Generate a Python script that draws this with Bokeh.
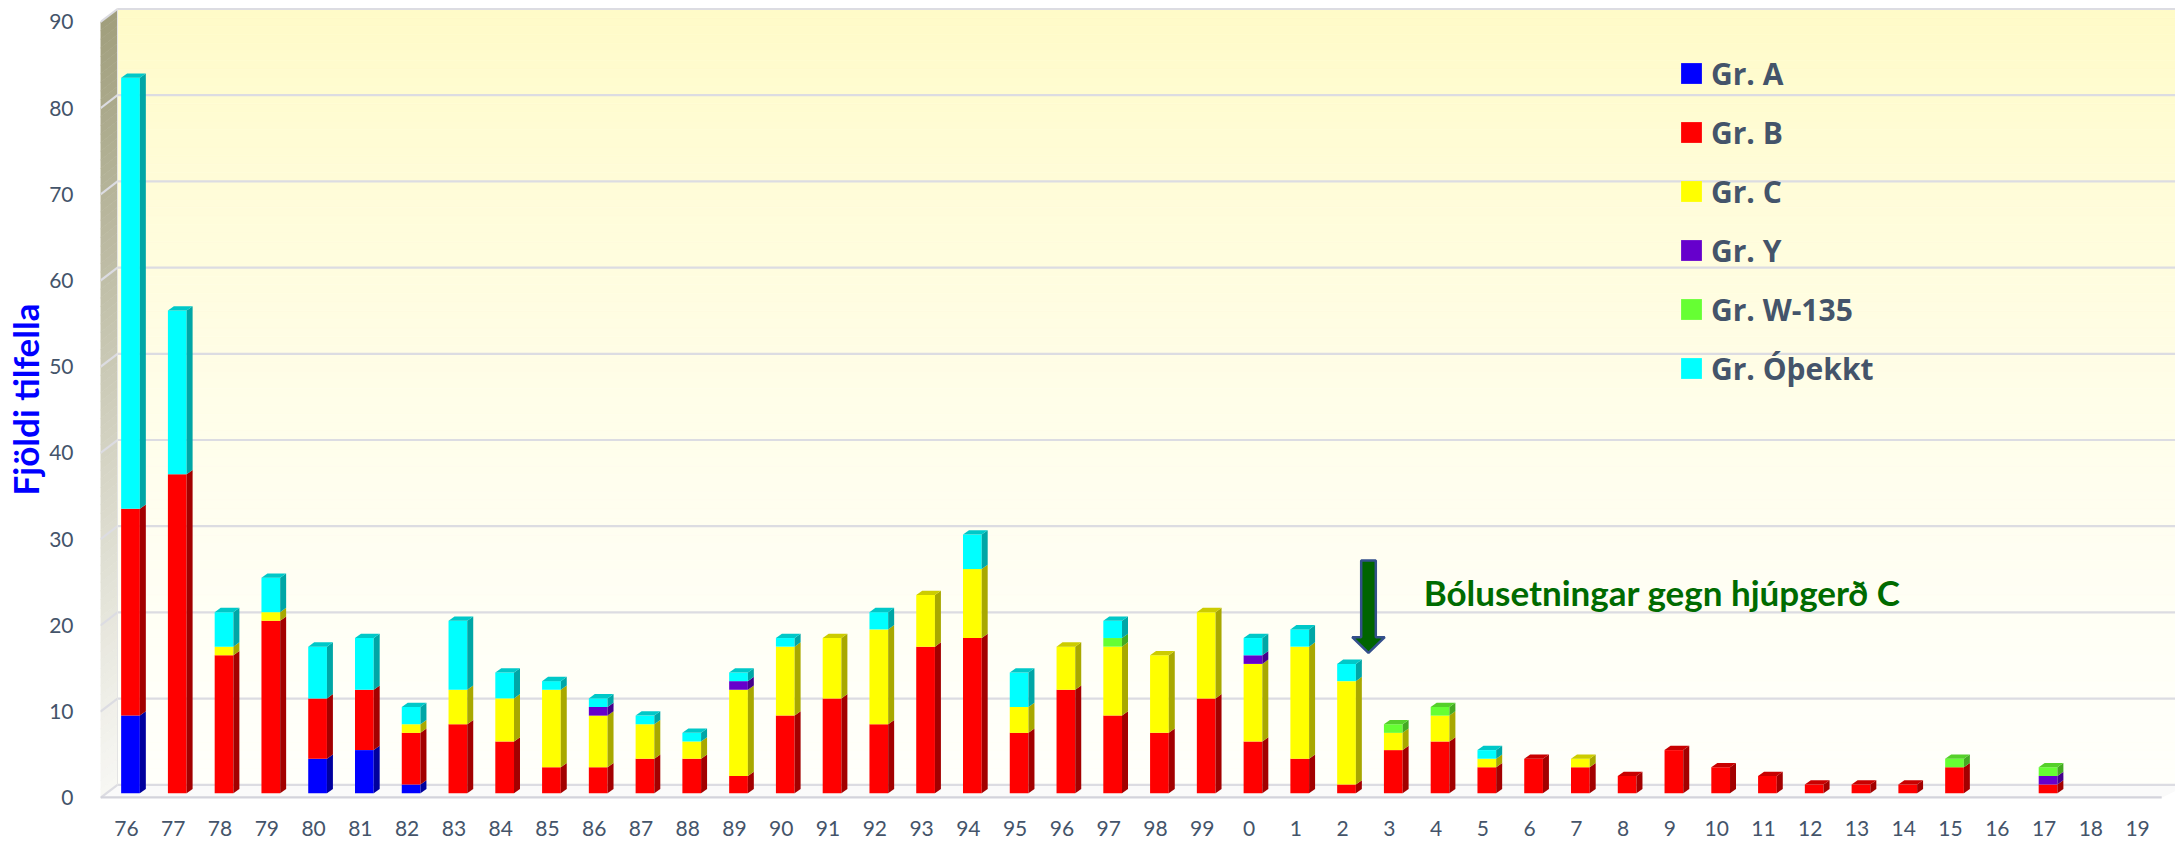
import numpy as np
from bokeh.plotting import figure
from bokeh.models import (Range1d, LinearAxis, FixedTicker, Legend, LegendItem,
                          Label, ColumnDataSource)
from bokeh.embed import file_html
from bokeh.resources import INLINE

# ---------------- data ----------------
years = ["76", "77", "78", "79", "80", "81", "82", "83", "84", "85", "86", "87",
         "88", "89", "90", "91", "92", "93", "94", "95", "96", "97", "98", "99",
         "0", "1", "2", "3", "4", "5", "6", "7", "8", "9", "10", "11", "12", "13",
         "14", "15", "16", "17", "18", "19"]

gr_a = [9, 0, 0, 0, 4, 5, 1, 0, 0, 0, 0, 0, 0, 0, 0, 0, 0, 0, 0, 0, 0, 0,
        0, 0, 0, 0, 0, 0, 0, 0, 0, 0, 0, 0, 0, 0, 0, 0, 0, 0, 0, 0, 0, 0]
gr_b = [24, 37, 16, 20, 7, 7, 6, 8, 6, 3, 3, 4, 4, 2, 9, 11, 8, 17, 18, 7, 12, 9,
        7, 11, 6, 4, 1, 5, 6, 3, 4, 3, 2, 5, 3, 2, 1, 1, 1, 3, 0, 1, 0, 0]
gr_c = [0, 0, 1, 1, 0, 0, 1, 4, 5, 9, 6, 4, 2, 10, 8, 7, 11, 6, 8, 3, 5, 8,
        9, 10, 9, 13, 12, 2, 3, 1, 0, 1, 0, 0, 0, 0, 0, 0, 0, 0, 0, 0, 0, 0]
gr_y = [0, 0, 0, 0, 0, 0, 0, 0, 0, 0, 1, 0, 0, 1, 0, 0, 0, 0, 0, 0, 0, 0,
        0, 0, 1, 0, 0, 0, 0, 0, 0, 0, 0, 0, 0, 0, 0, 0, 0, 0, 0, 1, 0, 0]
gr_w = [0, 0, 0, 0, 0, 0, 0, 0, 0, 0, 0, 0, 0, 0, 0, 0, 0, 0, 0, 0, 0, 1,
        0, 0, 0, 0, 0, 1, 1, 0, 0, 0, 0, 0, 0, 0, 0, 0, 0, 1, 0, 1, 0, 0]
gr_o = [50, 19, 4, 4, 6, 6, 2, 8, 3, 1, 1, 1, 1, 1, 1, 0, 2, 0, 4, 4, 0, 2,
        0, 0, 2, 2, 2, 0, 0, 1, 0, 0, 0, 0, 0, 0, 0, 0, 0, 0, 0, 0, 0, 0]

series_names = ["Gr. A", "Gr. B", "Gr. C", "Gr. Y", "Gr. W-135", "Gr. Óþekkt"]
series_values = [gr_a, gr_b, gr_c, gr_y, gr_w, gr_o]
y_ticks = [0, 10, 20, 30, 40, 50, 60, 70, 80, 90]

note_text = "Bólusetningar gegn hjúpgerð C"
y_title = "Fjöldi tilfella"

# ---------------- style ----------------
front_cols = ["#0000FF", "#FF0000", "#FFFF00", "#6600CC", "#66FF33", "#00FFFF"]
side_cols = ["#00009E", "#A30000", "#A8A800", "#45008C", "#44AA22", "#00A6A6"]
cap_cols = ["#0000CC", "#C80000", "#CCCC00", "#5500AA", "#55D02A", "#00C8C8"]
txt_col = "#44546A"
FONT = "Lato"

BAR_W = 0.4      # front face width (category units)
DX = 0.128       # bar depth, x
DY = 0.5         # bar depth, y (value units)
BACK_X = -0.278  # back wall left edge
FRONT_X = -0.6414
BACK_DV = 0.974  # back plane offset vs bar front plane
FRONT_DV = -0.534
X_END = 44.0
FLOOR_FRONT_END = 43.43

W, H = 2175, 840
p = figure(width=W, height=H, x_range=Range1d(-0.6414, 43.725),
           y_range=Range1d(-0.615, 91.96), output_backend="svg",
           toolbar_location=None, x_axis_type=None, y_axis_type=None,
           min_border_left=100, min_border_right=0, min_border_top=0,
           min_border_bottom=42)
p.outline_line_color = None
p.background_fill_color = "white"
p.border_fill_color = "white"

# ---------------- walls ----------------
top_c = np.array([255, 251, 200]); bot_c = np.array([255, 255, 250])
ks = np.arange(90)
t = (ks + 0.5) / 90.0
back_colors = ["#%02x%02x%02x" % tuple(np.round(bot_c + (top_c - bot_c) * (tt ** 1.5)).astype(int)) for tt in t]
p.quad(left=BACK_X, right=X_END, bottom=ks + BACK_DV, top=ks + 1 + BACK_DV,
       fill_color=back_colors, line_color=back_colors, line_width=0.6)

s_top = np.array([160, 158, 124]); s_bot = np.array([247, 247, 243])
side_colors = ["#%02x%02x%02x" % tuple(np.round(s_bot + (s_top - s_bot) * (tt ** 1.1)).astype(int)) for tt in t]
sxs = [[BACK_X, BACK_X, FRONT_X, FRONT_X] for k in ks]
sys_ = [[k + BACK_DV, k + 1 + BACK_DV, k + 1 + FRONT_DV, k + FRONT_DV] for k in ks]
p.patches(xs=sxs, ys=sys_, fill_color=side_colors, line_color=side_colors, line_width=0.6)

# floor
p.patch(x=[BACK_X, X_END, FLOOR_FRONT_END, FRONT_X],
        y=[BACK_DV, BACK_DV, FRONT_DV, FRONT_DV], fill_color="#FAFAFA", line_color=None)

grid_col = "#DCDCE2"
gv = np.array(y_ticks, dtype=float)
p.segment(x0=BACK_X, x1=X_END, y0=gv + BACK_DV, y1=gv + BACK_DV, line_color=grid_col, line_width=2.2)
p.segment(x0=BACK_X, x1=FRONT_X, y0=gv + BACK_DV, y1=gv + FRONT_DV, line_color=grid_col, line_width=2.2)
p.segment(x0=[FRONT_X], x1=[FLOOR_FRONT_END], y0=[FRONT_DV], y1=[FRONT_DV], line_color="#D3D3DB", line_width=3)
p.segment(x0=[BACK_X], x1=[BACK_X], y0=[BACK_DV], y1=[90 + BACK_DV], line_color="#E4E4E4", line_width=1)

# ---------------- bars ----------------
idx = np.arange(len(years))
bottom = np.zeros(len(years))
tops_total = np.zeros(len(years))
for v in series_values:
    tops_total += np.array(v)

legend_items = []
for s, (name, vals) in enumerate(zip(series_names, series_values)):
    vals = np.array(vals, dtype=float)
    m = vals > 0
    b = bottom[m]; tp = bottom[m] + vals[m]; xx = idx[m].astype(float)
    src = ColumnDataSource(dict(x=xx, bottom=b, top=tp))
    r = p.vbar(x="x", width=BAR_W, bottom="bottom", top="top", source=src,
               fill_color=front_cols[s], line_color=None)
    legend_items.append(LegendItem(label=name, renderers=[r]))
    sx = [[x + BAR_W / 2, x + BAR_W / 2 + DX, x + BAR_W / 2 + DX, x + BAR_W / 2] for x in xx]
    sy = [[bb, bb + DY, tt + DY, tt] for bb, tt in zip(b, tp)]
    p.patches(xs=sx, ys=sy, fill_color=side_cols[s], line_color=None)
    is_top = np.isclose(tp, tops_total[m])
    cx = [[x - BAR_W / 2, x - BAR_W / 2 + DX, x + BAR_W / 2 + DX, x + BAR_W / 2] for x, it in zip(xx, is_top) if it]
    cy = [[tt, tt + DY, tt + DY, tt] for tt, it in zip(tp, is_top) if it]
    if cx:
        p.patches(xs=cx, ys=cy, fill_color=cap_cols[s], line_color=None)
    bottom = bottom + vals

# ---------------- axes ----------------
p.extra_x_ranges = {"lab": Range1d(-0.5559, 43.81)}
p.extra_y_ranges = {"front": Range1d(-0.081, 92.49)}

xaxis = LinearAxis(x_range_name="lab", ticker=FixedTicker(ticks=list(range(len(years)))),
                   major_label_overrides={i: lab for i, lab in enumerate(years)})
yaxis = LinearAxis(y_range_name="front", ticker=FixedTicker(ticks=y_ticks),
                   axis_label=y_title)
for ax in (xaxis, yaxis):
    ax.axis_line_color = None
    ax.major_tick_line_color = None
    ax.minor_tick_line_color = None
    ax.major_label_text_font = FONT
    ax.major_label_text_font_size = "21px"
    ax.major_label_text_color = txt_col
xaxis.major_label_standoff = 16
yaxis.major_label_standoff = 21
yaxis.axis_label_text_font = FONT
yaxis.axis_label_text_font_size = "35px"
yaxis.axis_label_text_font_style = "bold"
yaxis.axis_label_text_color = "#0000FF"
yaxis.axis_label_standoff = 0
p.add_layout(xaxis, "below")
p.add_layout(yaxis, "left")

# ---------------- legend ----------------
legend = Legend(items=legend_items, location=(1578, 409), orientation="vertical",
                padding=0, margin=0, spacing=17, glyph_width=26, glyph_height=26,
                label_height=42, label_standoff=7,
                label_text_font="Open Sans", label_text_font_size="30px",
                label_text_font_style="bold", label_text_color=txt_col,
                background_fill_alpha=0, border_line_alpha=0)
p.add_layout(legend, "center")

# ---------------- annotation ----------------
arrow_x, arrow_top, arrow_base, arrow_tip = 26.47, 27.0, 18.1, 16.29
hw_s, hw_h = 0.156, 0.348
p.patch(x=[arrow_x - hw_s, arrow_x + hw_s, arrow_x + hw_s, arrow_x + hw_h, arrow_x,
           arrow_x - hw_h, arrow_x - hw_s],
        y=[arrow_top, arrow_top, arrow_base, arrow_base, arrow_tip, arrow_base, arrow_base],
        fill_color="#006400", line_color="#34508C", line_width=2.5)
p.add_layout(Label(x=27.65, y=23.3, text=note_text, text_font=FONT,
                   text_font_size="35px", text_font_style="bold",
                   text_color="#006B00", text_baseline="alphabetic"))

open("out.html", "w").write(file_html(p, INLINE))
